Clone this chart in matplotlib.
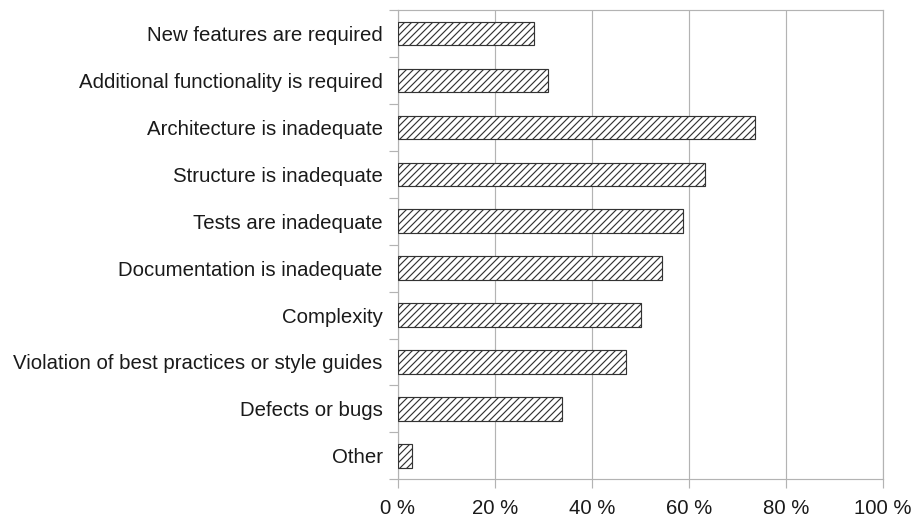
import matplotlib.pyplot as plt
import numpy as np

categories = [
    "New features are required",
    "Additional functionality is required",
    "Architecture is inadequate",
    "Structure is inadequate",
    "Tests are inadequate",
    "Documentation is inadequate",
    "Complexity",
    "Violation of best practices or style guides",
    "Defects or bugs",
    "Other",
]
shares = [28.0, 30.9, 73.6, 63.3, 58.8, 54.4, 50.1, 47.1, 33.9, 3.0]
x_ticks = [0, 20, 40, 60, 80, 100]
x_tick_labels = ["0 %", "20 %", "40 %", "60 %", "80 %", "100 %"]

plt.rcParams['font.family'] = ['Liberation Sans', 'DejaVu Sans']
plt.rcParams['hatch.linewidth'] = 1.0
plt.rcParams['hatch.color'] = '#1a1a1a'

dpi = 84
fig = plt.figure(figsize=(915 / dpi, 518 / dpi), dpi=dpi)
ax = fig.add_axes([397.7 / 915, 1 - 479.3 / 518, 485 / 915, 469.3 / 518])

y = np.arange(len(categories))
ax.barh(y, shares, height=0.5, color='white', edgecolor='#333333',
        linewidth=1.0, hatch='////', zorder=3)

ax.set_xlim(0, 100)
ax.set_ylim(len(categories) - 0.5, -0.5)

grid_color = '#b3b3b3'
ax.set_xticks(x_ticks)
ax.set_xticklabels(x_tick_labels)
ax.xaxis.grid(True, color=grid_color, linewidth=1.0, zorder=0)
ax.set_axisbelow(True)

# category labels at centers, tick marks at category boundaries
ax.set_yticks(y)
ax.set_yticklabels(categories)
ax.set_yticks(np.arange(len(categories) + 1) - 0.5, minor=True)
ax.tick_params(axis='y', which='major', length=0, pad=13, labelsize=17.5,
               labelcolor='#1a1a1a')
ax.tick_params(axis='y', which='minor', length=8, width=1.0, color=grid_color)
ax.tick_params(axis='x', which='major', length=8, width=1.0, color=grid_color,
               pad=9, labelsize=17.5, labelcolor='#1a1a1a')

for side in ['left', 'right', 'top', 'bottom']:
    ax.spines[side].set_color(grid_color)
    ax.spines[side].set_linewidth(1.0)

fig.savefig('out.png', dpi=dpi, facecolor='white')
